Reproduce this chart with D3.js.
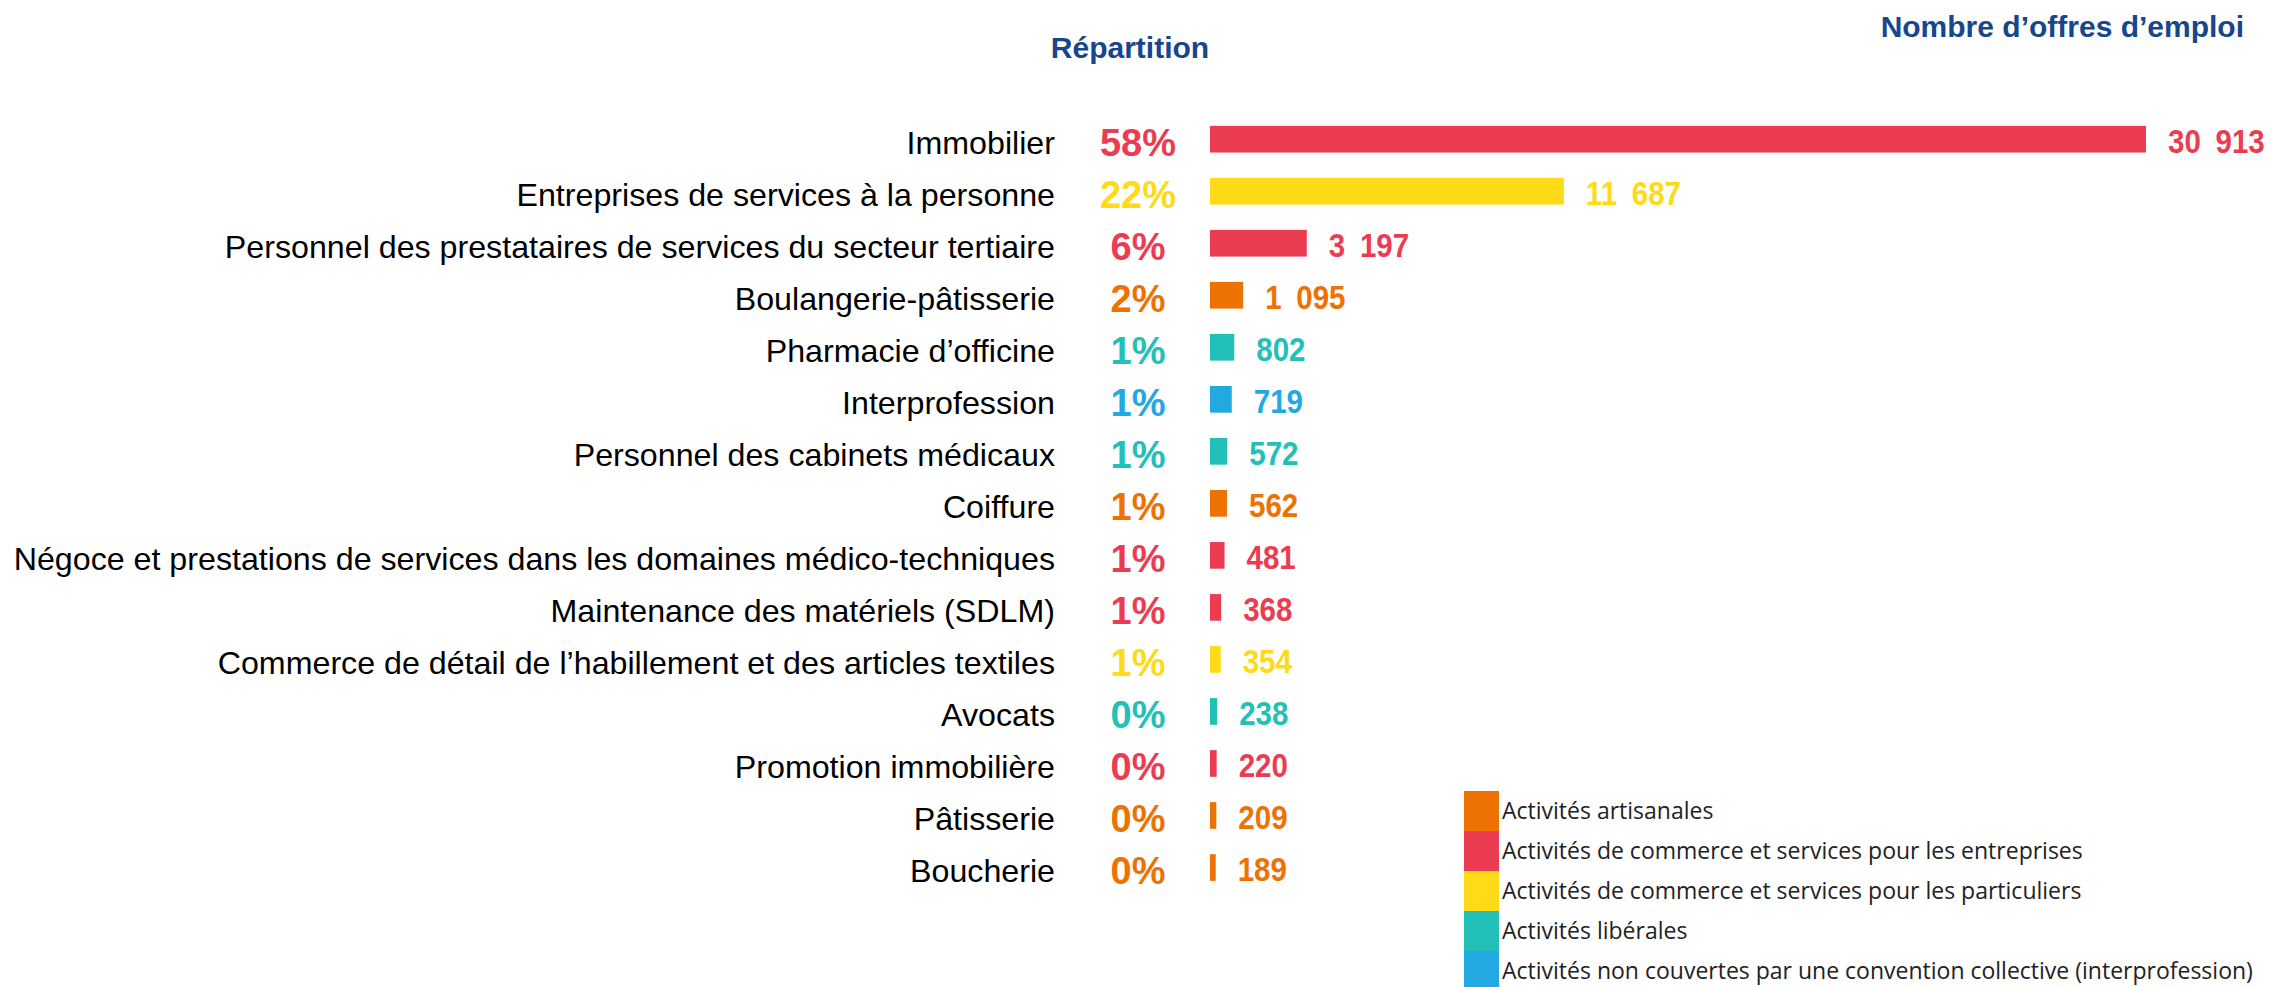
<!DOCTYPE html>
<html>
<head>
<meta charset="utf-8">
<script src="https://cdn.jsdelivr.net/npm/d3@7"></script>
<style>
  body { margin: 0; background: #fff; }
</style>
</head>
<body>
<div id="wrapper"></div>
<script>
// data
const categories = [
    "Immobilier",
    "Entreprises de services à la personne",
    "Personnel des prestataires de services du secteur tertiaire",
    "Boulangerie-pâtisserie",
    "Pharmacie d\u2019officine",
    "Interprofession",
    "Personnel des cabinets médicaux",
    "Coiffure",
    "Négoce et prestations de services dans les domaines médico-techniques",
    "Maintenance des matériels (SDLM)",
    "Commerce de détail de l\u2019habillement et des articles textiles",
    "Avocats",
    "Promotion immobilière",
    "Pâtisserie",
    "Boucherie"
]
const offres = [30913, 11687, 3197, 1095, 802, 719, 572, 562, 481, 368, 354, 238, 220, 209, 189]
const repartition = [58, 22, 6, 2, 1, 1, 1, 1, 1, 1, 1, 0, 0, 0, 0]
const groupes = ["ent", "part", "ent", "art", "lib", "inter", "lib", "art", "ent", "ent", "part", "lib", "ent", "art", "art"]

const legendKeys = ["art", "ent", "part", "lib", "inter"]
const legendLabels = [
    "Activités artisanales",
    "Activités de commerce et services pour les entreprises",
    "Activités de commerce et services pour les particuliers",
    "Activités libérales",
    "Activités non couvertes par une convention collective (interprofession)"
]
const legendColors = ["#EE7203", "#EC3C52", "#FFDA16", "#22C0B8", "#23A9E1"]

const data = categories.map((c, i) => ({
    cat: c,
    value: offres[i],
    pct: repartition[i],
    group: groupes[i]
}))

const dimensions = {
    width: 2272,
    height: 987
}

const color = d3.scaleOrdinal()
    .domain(legendKeys)
    .range(legendColors)

// french grouping, the gap in the picture is wider than a plain space
const fr = d3.formatLocale({decimal: ",", thousands: "\u2002", grouping: [3], currency: ["", " €"]})
const fmt = fr.format(",d")

const svg = d3.select('#wrapper')
    .append('svg')
    .attr('width', dimensions.width)
    .attr('height', dimensions.height)
    .style('display', 'block')

const yScale = d3.scaleBand()
    .domain(categories)
    .range([113.2, 893.5])
    .paddingInner(0.487)
    .paddingOuter(0.2435)

const xScale = d3.scaleLinear()
    .domain([0, d3.max(offres)])
    .range([1210, 2146])

const yMid = d => yScale(d.cat) + yScale.bandwidth() / 2

// column headers
svg.append('text')
    .attr('x', 1130)
    .attr('y', 58)
    .attr('text-anchor', 'middle')
    .style('font-family', '"Liberation Sans", Arial, sans-serif')
    .style('font-weight', 'bold')
    .style('font-size', '30px')
    .attr('fill', '#17468C')
    .text('Répartition')

svg.append('text')
    .attr('x', 2244)
    .attr('y', 37)
    .attr('text-anchor', 'end')
    .style('font-family', '"Liberation Sans", Arial, sans-serif')
    .style('font-weight', 'bold')
    .style('font-size', '30px')
    .attr('fill', '#17468C')
    .text('Nombre d\u2019offres d\u2019emploi')

const rows = svg.append('g')

// category labels
rows.selectAll('text.cat')
    .data(data)
    .join('text')
    .attr('class', 'cat')
    .attr('x', 1055)
    .attr('y', d => yMid(d) + 3)
    .attr('dy', '0.36em')
    .attr('text-anchor', 'end')
    .style('font-family', '"Liberation Sans", Arial, sans-serif')
    .style('font-size', '32.2px')
    .attr('fill', '#000')
    .text(d => d.cat)

// percentages
rows.selectAll('text.pct')
    .data(data)
    .join('text')
    .attr('class', 'pct')
    .attr('x', 1138)
    .attr('y', d => yMid(d) + 3)
    .attr('dy', '0.36em')
    .attr('text-anchor', 'middle')
    .style('font-family', '"Liberation Sans", Arial, sans-serif')
    .style('font-weight', 'bold')
    .style('font-size', '38px')
    .attr('fill', d => color(d.group))
    .text(d => d.pct + '%')

// bars
rows.selectAll('rect')
    .data(data)
    .join('rect')
    .attr('x', xScale(0))
    .attr('y', d => yScale(d.cat))
    .attr('width', d => xScale(d.value) - xScale(0))
    .attr('height', yScale.bandwidth())
    .attr('fill', d => color(d.group))

// values (slightly taller than wide in the picture)
rows.selectAll('text.val')
    .data(data)
    .join('text')
    .attr('class', 'val')
    .attr('transform', d => `translate(${xScale(d.value) + 22}, ${yMid(d) + 2}) scale(1, 1.1)`)
    .attr('dy', '0.36em')
    .style('font-family', '"Liberation Sans", Arial, sans-serif')
    .style('font-weight', 'bold')
    .style('font-size', '29.5px')
    .attr('fill', d => color(d.group))
    .text(d => fmt(d.value))

// legend
const legend = svg.append('g')
    .attr('transform', 'translate(1464, 791)')

const item = legend.selectAll('g')
    .data(legendKeys)
    .join('g')
    .attr('transform', (d, i) => `translate(0, ${i * 40})`)

item.append('rect')
    .attr('width', 35)
    .attr('height', 40)
    .attr('fill', d => color(d))

item.append('text')
    .attr('x', 38)
    .attr('y', 20)
    .attr('dy', '0.35em')
    .style('font-family', '"Open Sans", sans-serif')
    .style('font-size', '23px')
    .attr('fill', '#222')
    .text((d, i) => legendLabels[i])
</script>
</body>
</html>
